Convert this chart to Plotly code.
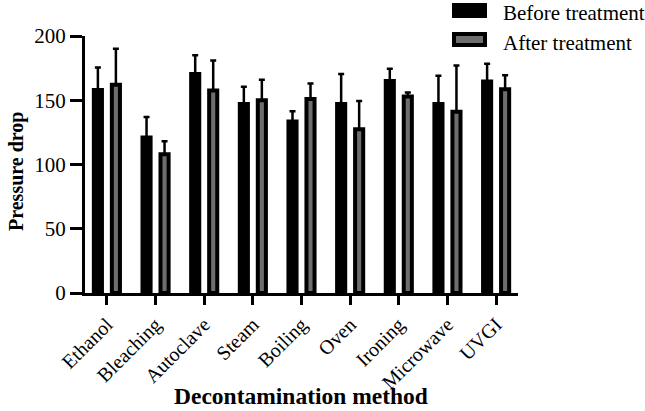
import plotly.graph_objects as go

categories = ["Ethanol", "Bleaching", "Autoclave", "Steam", "Boiling", "Oven", "Ironing", "Microwave", "UVGI"]
before_mean = [158, 121, 170.5, 147, 133.5, 147, 165, 147, 164.5]
before_err = [17.5, 16, 14.5, 13.5, 8, 23.5, 9.5, 22, 14]
after_mean = [162, 108, 157.5, 150, 151, 127.5, 153, 141, 158.5]
after_err = [28, 10, 23.5, 16, 12, 22, 3, 36, 11]

FONT = "Liberation Serif, Times New Roman, serif"
W, H = 645, 411
L, R, T, B = 85, 127, 36, 118
pw, ph = W - L - R, H - T - B

def px(x):
    return (x - L) / pw

def py(y):
    return (H - B - y) / ph

fig = go.Figure()
fig.add_trace(go.Bar(
    x=categories, y=before_mean, name="Before treatment",
    marker=dict(color="black", line=dict(color="black", width=4)),
    error_y=dict(type="data", symmetric=False, array=before_err,
                 arrayminus=[0] * len(before_err), color="black", thickness=2.5, width=3),
))
fig.add_trace(go.Bar(
    x=categories, y=after_mean, name="After treatment",
    marker=dict(color="#6e6e6e", line=dict(color="black", width=4)),
    error_y=dict(type="data", symmetric=False, array=after_err,
                 arrayminus=[0] * len(after_err), color="black", thickness=2.5, width=3),
))

fig.update_layout(
    width=W, height=H,
    margin=dict(l=L, r=R, t=T, b=B),
    paper_bgcolor="white", plot_bgcolor="white",
    barmode="group", bargap=0.26, bargroupgap=0.55,
    showlegend=False,
    font=dict(family=FONT, color="black"),
    xaxis=dict(
        range=[-0.45, 8.45], showline=True, linecolor="black", linewidth=3,
        ticks="outside", ticklen=9, tickwidth=3, tickcolor="black",
        tickangle=-45, tickfont=dict(family=FONT, size=20, color="black"),
        showgrid=False, zeroline=False, automargin=False,
    ),
    yaxis=dict(
        range=[0, 200], showline=True, linecolor="black", linewidth=3,
        ticks="outside", ticklen=12, tickwidth=3, tickcolor="black",
        tickvals=[0, 50, 100, 150, 200], tickfont=dict(family=FONT, size=21, color="black"),
        showgrid=False, zeroline=False, automargin=False,
    ),
)

# axis titles
fig.add_annotation(xref="paper", yref="paper", x=px(301), y=py(410),
                   text="<b>Decontamination method</b>", showarrow=False,
                   xanchor="center", yanchor="bottom", borderpad=0,
                   font=dict(family=FONT, size=23.5, color="black"))
fig.add_annotation(xref="paper", yref="paper", x=px(16), y=py(172),
                   text="<b>Pressure drop</b>", showarrow=False, textangle=-90,
                   xanchor="center", yanchor="middle",
                   font=dict(family=FONT, size=20, color="black"))

# manual legend
fig.add_shape(type="rect", xref="paper", yref="paper",
              x0=px(454), x1=px(485), y0=py(16), y1=py(5),
              fillcolor="black", line=dict(color="black", width=4))
fig.add_shape(type="rect", xref="paper", yref="paper",
              x0=px(454), x1=px(485), y0=py(45), y1=py(34),
              fillcolor="#6e6e6e", line=dict(color="black", width=4))
fig.add_annotation(xref="paper", yref="paper", x=px(501), y=py(13), text="Before treatment",
                   showarrow=False, xanchor="left", yanchor="middle",
                   font=dict(family=FONT, size=21, color="black"))
fig.add_annotation(xref="paper", yref="paper", x=px(501), y=py(43), text="After treatment",
                   showarrow=False, xanchor="left", yanchor="middle",
                   font=dict(family=FONT, size=21, color="black"))

fig.write_html("out.html", config={"displayModeBar": False},
               post_script="document.body.style.margin='0';")
